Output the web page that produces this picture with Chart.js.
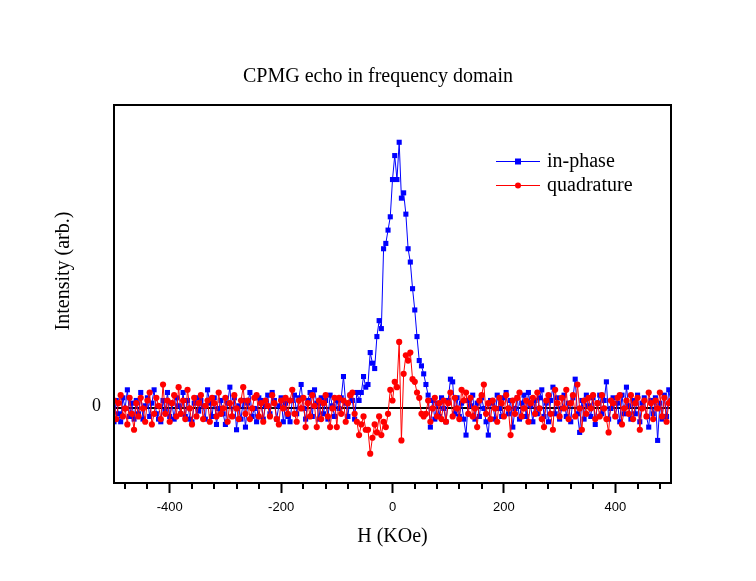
<!DOCTYPE html>
<html><head><meta charset="utf-8">
<script src="https://cdn.jsdelivr.net/npm/chart.js@4.4.1/dist/chart.umd.min.js"></script>
<style>html,body{margin:0;padding:0;background:#fff}#wrap{width:756px;height:581px}</style>
</head><body><div id="wrap"><canvas id="c" width="756" height="581"></canvas></div>
<script>
// Field grid (KOe): uniform sampling from -500 to 500
const H_START = -500, H_STEP = 4, H_COUNT = 251;
const H = [];
for (let i = 0; i < H_COUNT; i++) H.push(H_START + i * H_STEP);

const seriesNames = ['in-phase', 'quadrature'];

const inPhase = [
-5, 3, -2, -5, 4, 0, 7, -3, 2, -4,
3, -2, 6, -4, 1, 4, -3, 2, 7, -2,
-4, -5, 3, -1, 6, -3, 2, -4, 4, 1,
-2, 6, -3, 3, -4, -5, 2, 4, -1, 3,
1, -4, 7, 2, -3, 4, -6, 0, 3, -2,
-6, 2, 8, -3, 4, -8, 1, -4, 3, -7,
2, 6, -3, 0, -5, 4, 3, -4, 1, 5,
-2, 6, 3, -4, 1, 4, -5, 2, -3, -5,
3, 5, -2, 4, 9, 0, -4, 3, 6, -3,
7, 2, -4, 4, -2, 3, -4, 5, 1, -3,
3, 0, 4, 12, 2, -3, 5, 3, -4, 6,
3, 6, 12, 8, 9, 21, 17, 15, 27, 33,
30, 60, 62, 67, 72, 86, 95, 86, 100, 79,
81, 73, 60, 55, 45, 37, 27, 18, 16, 13,
9, 5, -7, 3, -4, 2, -3, 4, 0, -5,
3, 11, 10, -2, 4, -3, 2, -4, -10, 3,
1, 5, -4, 2, -3, 4, 0, -5, -10, 3,
2, -4, 5, 0, -3, 4, 6, -2, 3, -7,
0, 4, -4, 2, 5, -3, 6, 1, -5, 3,
-2, 4, 7, -3, 2, -5, 3, 8, -2, 4,
-4, 0, 5, -3, 2, -5, 4, 11, -2, -9,
3, -4, 5, 1, -3, 4, -6, 2, 5, -2,
3, 10, -4, 0, 4, -3, 2, -5, 5, -2,
8, 1, -4, 3, -2, 5, -5, 2, 4, -3,
-7, 3, -2, 4, -12, 2, -4, 5, -3, 7,
2
];

const quadrature = [
3, -4, 2, 5, -3, 0, -6, 4, -2, -8,
2, -3, 4, 0, -5, 3, 6, -6, -2, 4,
1, -4, 9, -2, 3, -5, 2, 5, -3, 8,
-2, 3, -4, 7, 0, -6, 4, -3, 2, 5,
-4, 1, 3, -5, 4, 2, -3, 6, -2, 0,
4, -5, 2, -3, 5, 0, -4, 3, 8, -2,
3, -4, 0, 4, 5, -3, 2, -5, 3, 1,
-3, 5, 2, -4, -6, 3, 0, 4, -2, 3,
7, -2, -5, 3, 0, 4, -7, 2, -3, 5,
1, -7, 3, -4, 2, 5, -3, -7, 0, 4,
-7, 4, -2, 3, -5, 2, 5, 6, -2, -5,
-10, -6, -3, -8, -8, -17, -11, -6, -9, -3,
-10, -5, -7, -2, 7, 3, 10, 8, 25, -12,
13, 20, 18, 21, 11, 10, 6, 4, -2, -3,
-2, 3, -5, 0, 4, -3, 2, -4, 3, -5,
2, 6, -3, 4, 0, -4, 7, 3, 6, -2,
4, -3, 0, -7, 3, 5, 9, -2, 2, -4,
3, 0, -5, 4, 2, -3, 5, 0, -10, 3,
-2, 4, 6, -3, 0, 3, -5, 2, 4, -2,
6, 0, -4, -7, 3, 5, -2, -8, 7, 2,
-3, 4, 0, 7, -4, 2, 5, -3, 9, 0,
-8, 3, -2, 4, 0, 5, -4, 2, -3, 5,
0, -4, -9, 3, 2, -3, 4, 5, -6, 0,
3, -2, 5, -4, 2, 4, -8, 0, 3, -3,
6, 2, -4, 3, 0, 6, -3, 4, -5, 2,
3
];

const xMajorTicks = [-400, -200, 0, 200, 400];
const xMinorTicks = [-480, -440, -360, -320, -280, -240, -160, -120, -80, -40, 40, 80, 120, 160, 240, 280, 320, 360, 440, 480];
const yTicks = [0];
const xRange = [-500, 500];
const yRange = [-28, 114];

const titleText = 'CPMG echo in frequency domain';
const xTitle = 'H (KOe)';
const yTitle = 'Intensity (arb.)';

const BLUE = '#0000ff', RED = '#ff0000';
const SERIF = '"Liberation Serif", "Times New Roman", serif';

const decor = {
  id: 'decor',
  afterDatasetsDraw(chart) {
    const { ctx, chartArea: a, scales: { x } } = chart;
    ctx.save();
    ctx.strokeStyle = '#000';
    ctx.lineWidth = 2;
    ctx.strokeRect(a.left, a.top, a.right - a.left, a.bottom - a.top);
    ctx.beginPath();
    xMinorTicks.forEach(v => {
      const p = Math.round(x.getPixelForValue(v));
      ctx.moveTo(p, a.bottom);
      ctx.lineTo(p, a.bottom + 6);
    });
    ctx.stroke();
    ctx.save();
    ctx.fillStyle = '#000';
    ctx.font = '20px ' + SERIF;
    ctx.translate(69, (a.top + a.bottom) / 2 - 23);
    ctx.rotate(-Math.PI / 2);
    ctx.textAlign = 'center';
    ctx.textBaseline = 'alphabetic';
    ctx.fillText(yTitle, 0, 0);
    ctx.restore();
    const lx0 = a.right - 175, lx1 = a.right - 131, mx = a.right - 153;
    const rows = [
      { y: a.top + 56, color: BLUE, style: 'rect', name: seriesNames[0] },
      { y: a.top + 80, color: RED, style: 'circle', name: seriesNames[1] }
    ];
    rows.forEach(r => {
      ctx.strokeStyle = r.color;
      ctx.fillStyle = r.color;
      ctx.lineWidth = 1;
      ctx.beginPath();
      ctx.moveTo(lx0, r.y + 0.5);
      ctx.lineTo(lx1, r.y + 0.5);
      ctx.stroke();
      if (r.style === 'rect') {
        ctx.fillRect(mx - 3, r.y - 2.5, 6, 6);
      } else {
        ctx.beginPath();
        ctx.arc(mx, r.y + 0.5, 3, 0, Math.PI * 2);
        ctx.fill();
      }
      ctx.fillStyle = '#000';
      ctx.font = '20px ' + SERIF;
      ctx.textAlign = 'left';
      ctx.textBaseline = 'alphabetic';
      ctx.fillText(r.name, a.right - 124, r.y + 6);
    });
    ctx.restore();
  }
};

new Chart(document.getElementById('c'), {
  type: 'line',
  data: {
    datasets: [
      {
        label: seriesNames[0],
        data: inPhase.map((v, i) => ({ x: H[i], y: v })),
        borderColor: BLUE,
        backgroundColor: BLUE,
        borderWidth: 1,
        pointStyle: 'rect',
        pointRadius: 3.6,
        pointBorderWidth: 0,
        pointBackgroundColor: BLUE,
        tension: 0,
        order: 2
      },
      {
        label: seriesNames[1],
        data: quadrature.map((v, i) => ({ x: H[i], y: v })),
        borderColor: RED,
        backgroundColor: RED,
        borderWidth: 1,
        pointStyle: 'circle',
        pointRadius: 3.1,
        pointBorderWidth: 0,
        pointBackgroundColor: RED,
        tension: 0,
        order: 1
      }
    ]
  },
  options: {
    responsive: false,
    animation: false,
    devicePixelRatio: 1,
    layout: { padding: 0 },
    plugins: {
      legend: { display: false },
      tooltip: { enabled: false },
      title: {
        display: true,
        text: titleText,
        color: '#000',
        font: { family: SERIF, size: 20, weight: 'normal' },
        padding: { top: 65, bottom: 16 }
      }
    },
    scales: {
      x: {
        type: 'linear',
        position: 'bottom',
        min: xRange[0],
        max: xRange[1],
        afterBuildTicks: s => { s.ticks = xMajorTicks.map(v => ({ value: v })); },
        afterFit: s => { s.height = 98; },
        ticks: {
          color: '#000',
          font: { family: '"Liberation Sans", Arial, sans-serif', size: 13 },
          padding: 7,
          maxRotation: 0,
          autoSkip: false
        },
        grid: { drawOnChartArea: false, drawTicks: true, tickLength: 10, tickWidth: 2, tickColor: '#000' },
        border: { display: false },
        title: {
          display: true,
          text: xTitle,
          color: '#000',
          font: { family: SERIF, size: 20, weight: 'normal' },
          padding: { top: 0, bottom: 32 }
        }
      },
      y: {
        type: 'linear',
        position: 'left',
        min: yRange[0],
        max: yRange[1],
        afterBuildTicks: s => { s.ticks = yTicks.map(v => ({ value: v })); },
        afterFit: s => { s.width = 114; },
        ticks: {
          color: '#000',
          font: { family: SERIF, size: 18 },
          padding: 13,
          labelOffset: -2,
          autoSkip: false
        },
        grid: { color: '#000', lineWidth: 2, drawTicks: false },
        border: { display: false }
      },
      yRight: {
        type: 'linear',
        position: 'right',
        display: true,
        afterFit: s => { s.width = 85; },
        ticks: { display: false },
        grid: { display: false, drawTicks: false },
        border: { display: false }
      }
    }
  },
  plugins: [decor]
});
</script>
</body></html>
